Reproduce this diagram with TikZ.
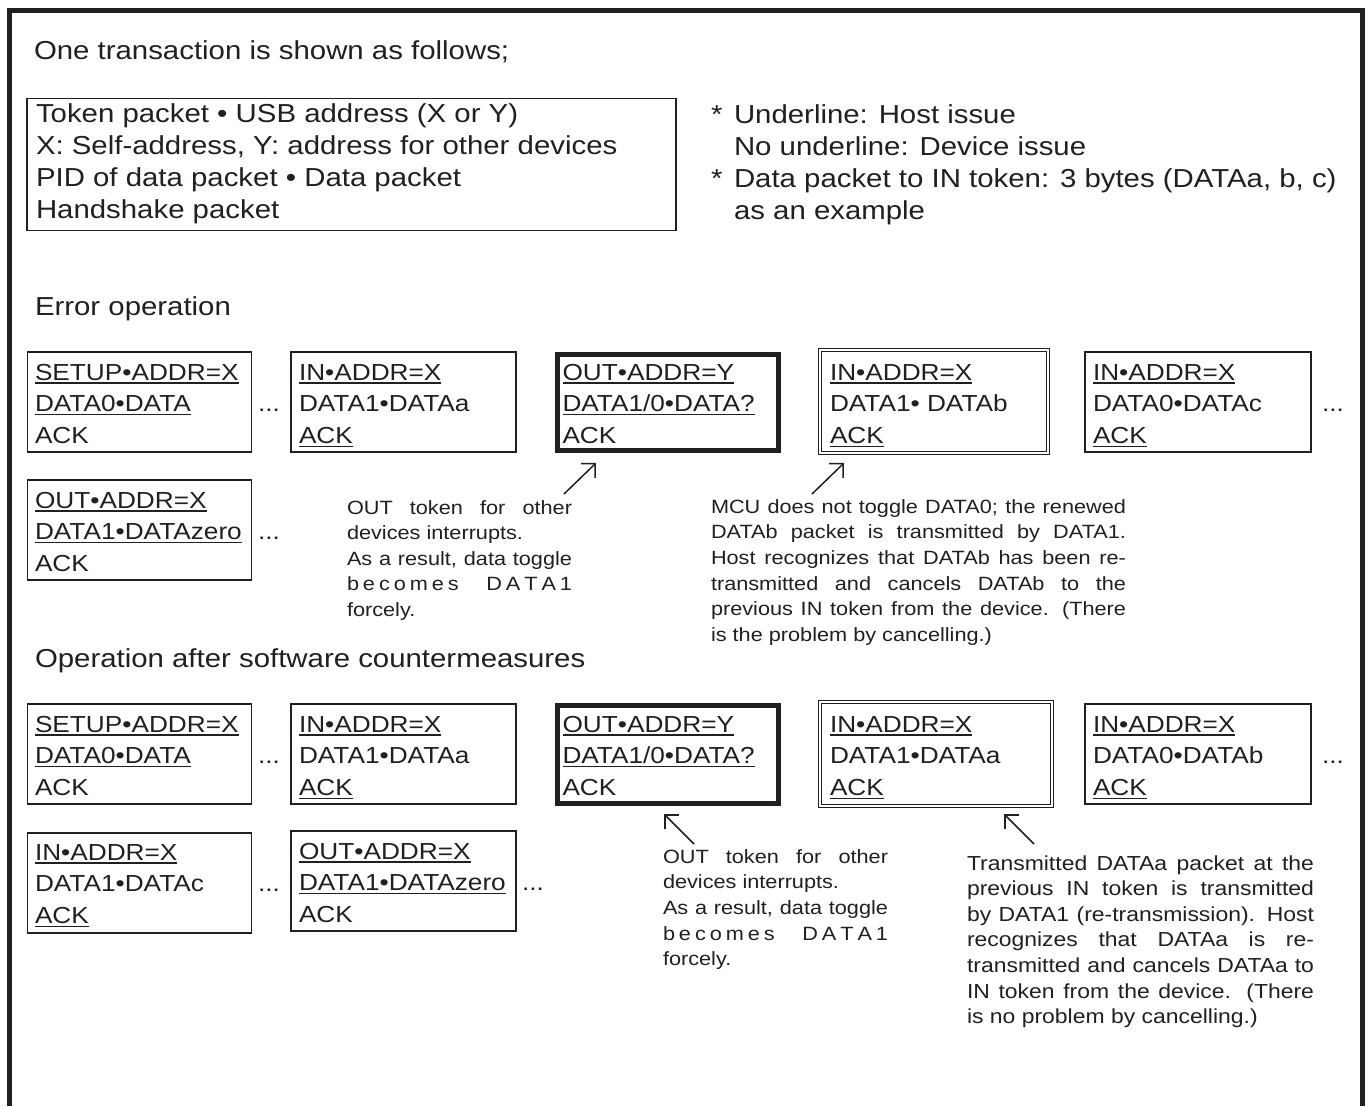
\documentclass[tikz,border=0pt]{standalone}
\usepackage{fontspec}
\setmainfont{Liberation Sans}[FakeStretch=1.13]
\usetikzlibrary{arrows.meta}
\definecolor{ink}{HTML}{231F20}
\newcommand\legfont{\fontsize{26}{32}\selectfont}
\newcommand\boxfont{\fontsize{23.2}{32}\selectfont}
\newcommand\annfont{\fontsize{19.2}{25}\selectfont}
\newcommand\annbfont{\fontsize{20.3}{26}\selectfont}
\newsavebox\ulbox
\newcommand\hul[1]{\sbox\ulbox{#1}\rlap{\rule[-3.6pt]{\wd\ulbox}{1.3pt}}\usebox\ulbox}
\newcommand\jl[2]{\makebox[#1][s]{#2}}
\newcommand\lgap{\hspace{0pt plus 1fil}}
\newcommand\wgap{\hspace{0pt plus 7fil}}
\newcommand\ptext[6]{%
 \node[boxtxt] (#1-1) at (#2,#3) {#4};
 \node[boxtxt] (#1-2) at ([yshift=-31.7pt]#1-1.base west) {#5};
 \node[boxtxt] (#1-3) at ([yshift=-63.4pt]#1-1.base west) {#6};}
\tikzset{
 pbox/.style={draw, line width=1.3pt, inner sep=0, outer sep=0, anchor=north west},
 thickbox/.style={draw, line width=5pt, inner sep=0, outer sep=0, anchor=north west},
 dbox/.style={draw, double=white, double distance=2.4pt, line width=1pt, inner sep=0, outer sep=0, anchor=north west},
 boxtxt/.style={anchor=base west, inner sep=0, outer sep=0, font=\boxfont},
 legtxt/.style={anchor=base west, inner sep=0, outer sep=0, font=\legfont},
 ann/.style={anchor=base west, inner sep=0, outer sep=0, font=\annfont},
 annb/.style={anchor=base west, inner sep=0, outer sep=0, font=\annbfont},
 callout/.style={-{Straight Barb[length=10pt,width=20pt]}, line width=1.5pt},
 frame/.style={line width=5pt, miter limit=10}
}
\begin{document}
\begin{tikzpicture}[x=1pt,y=-1pt,color=ink]
\useasboundingbox (0,0) rectangle (1368,1106);
\fill[white] (0,0) rectangle (1368,1106);
% outer frame (open at the bottom)
\draw[frame] (9.8,1106) -- (9.8,10.8) -- (1362.5,10.8) -- (1362.5,1106);

% header and legend
\node[legtxt] (title) at (34,59.5) {One transaction is shown as follows;};
\node[pbox, line width=1.2pt, minimum width=649pt, minimum height=132pt] (legend) at (27,98.5) {};
\node[legtxt] (leg1) at (36,122) {Token packet • USB address (X or Y)};
\node[legtxt] (leg2) at (36,154) {X: Self-address, Y: address for other devices};
\node[legtxt] (leg3) at (36,186) {PID of data packet • Data packet};
\node[legtxt] (leg4) at (36,218) {Handshake packet};

\node[legtxt] (s1) at (711,123) {*};
\node[legtxt] (n1) at (734,123) {Underline: Host issue};
\node[legtxt] (n2) at (734,155) {No underline: Device issue};
\node[legtxt] (s2) at (711,187) {*};
\node[legtxt] (n3) at (734,187) {Data packet to IN token: 3 bytes (DATAa, b, c)};
\node[legtxt] (n4) at (734,219) {as an example};

% ---------------- Error operation ----------------
\node[legtxt] (err) at (35,315) {Error operation};

\node[pbox, minimum width=224pt, minimum height=100pt] (b1) at (27.5,352) {};
\ptext{b1}{35}{380}{\hul{SETUP•ADDR=X}}{\hul{DATA0•DATA}}{ACK}
\node[boxtxt] (d1) at (258,411.7) {...};
\node[pbox, minimum width=225pt, minimum height=100pt] (b2) at (291,352) {};
\ptext{b2}{299}{380}{\hul{IN•ADDR=X}}{DATA1•DATAa}{\hul{ACK}}
\node[thickbox, minimum width=221pt, minimum height=96pt] (b3) at (557.5,354.5) {};
\ptext{b3}{562.5}{380}{\hul{OUT•ADDR=Y}}{\hul{DATA1/0•DATA?}}{ACK}
\node[dbox, minimum width=228pt, minimum height=103pt] (b4) at (820,350) {};
\ptext{b4}{830}{380}{\hul{IN•ADDR=X}}{DATA1• DATAb}{\hul{ACK}}
\node[pbox, minimum width=226pt, minimum height=100pt] (b5) at (1085,352) {};
\ptext{b5}{1093}{380}{\hul{IN•ADDR=X}}{DATA0•DATAc}{\hul{ACK}}
\node[boxtxt] (d2) at (1322,411.7) {...};

\node[pbox, minimum width=224pt, minimum height=100pt] (b6) at (27.5,480) {};
\ptext{b6}{35}{508}{\hul{OUT•ADDR=X}}{\hul{DATA1•DATAzero}}{ACK}
\node[boxtxt] (d3) at (258,539.7) {...};

\coordinate (t1) at (564,494); \coordinate (h1) at (596,463);
\draw[callout] (t1) -- (h1);
\coordinate (t2) at (812,494); \coordinate (h2) at (844,463);
\draw[callout] (t2) -- (h2);

\node[ann] (a1-1) at (347,514) {\jl{225pt}{OUT token for other}};
\node[ann] (a1-2) at (347,539.6) {devices interrupts.};
\node[ann] (a1-3) at (347,565.2) {\jl{225pt}{As a result, data toggle}};
\node[ann] (a1-4) at (347,590.8) {\jl{225pt}{b\lgap e\lgap c\lgap o\lgap m\lgap e\lgap s\wgap D\lgap A\lgap T\lgap A\lgap 1}};
\node[ann] (a1-5) at (347,616.4) {forcely.};

\node[ann] (a2-1) at (711,513) {\jl{415pt}{MCU does not toggle DATA0; the renewed}};
\node[ann] (a2-2) at (711,538.7) {\jl{415pt}{DATAb packet is transmitted by DATA1.}};
\node[ann] (a2-3) at (711,564.4) {\jl{415pt}{Host recognizes that DATAb has been re-}};
\node[ann] (a2-4) at (711,590.1) {\jl{415pt}{transmitted and cancels DATAb to the}};
\node[ann] (a2-5) at (711,615.8) {\jl{415pt}{previous IN token from the device. (There}};
\node[ann] (a2-6) at (711,641.5) {is the problem by cancelling.)};

% ---------------- After countermeasures ----------------
\node[legtxt] (cm) at (35,667) {Operation after software countermeasures};

\node[pbox, minimum width=224pt, minimum height=100pt] (b7) at (27.5,704) {};
\ptext{b7}{35}{732}{\hul{SETUP•ADDR=X}}{\hul{DATA0•DATA}}{ACK}
\node[boxtxt] (d4) at (258,763.7) {...};
\node[pbox, minimum width=225pt, minimum height=100pt] (b8) at (291,704) {};
\ptext{b8}{299}{732}{\hul{IN•ADDR=X}}{DATA1•DATAa}{\hul{ACK}}
\node[thickbox, minimum width=221pt, minimum height=98pt] (b9) at (557.5,705.5) {};
\ptext{b9}{562.5}{732}{\hul{OUT•ADDR=Y}}{\hul{DATA1/0•DATA?}}{ACK}
\node[dbox, minimum width=232pt, minimum height=104pt] (b10) at (820,702) {};
\ptext{b10}{830}{732}{\hul{IN•ADDR=X}}{DATA1•DATAa}{\hul{ACK}}
\node[pbox, minimum width=226pt, minimum height=100pt] (b11) at (1085,704) {};
\ptext{b11}{1093}{732}{\hul{IN•ADDR=X}}{DATA0•DATAb}{\hul{ACK}}
\node[boxtxt] (d5) at (1322,763.7) {...};

\node[pbox, minimum width=224pt, minimum height=100pt] (b12) at (27.5,833) {};
\ptext{b12}{35}{860}{\hul{IN•ADDR=X}}{DATA1•DATAc}{\hul{ACK}}
\node[boxtxt] (d6) at (258,891.7) {...};
\node[pbox, minimum width=225pt, minimum height=100pt] (b13) at (291,831) {};
\ptext{b13}{299}{859}{\hul{OUT•ADDR=X}}{\hul{DATA1•DATAzero}}{ACK}
\node[boxtxt] (d7) at (522,890.7) {...};

\coordinate (t3) at (694,844); \coordinate (h3) at (664,814);
\draw[callout] (t3) -- (h3);
\coordinate (t4) at (1034,844); \coordinate (h4) at (1004,814);
\draw[callout] (t4) -- (h4);

\node[ann] (a3-1) at (663,863) {\jl{225pt}{OUT token for other}};
\node[ann] (a3-2) at (663,888.7) {devices interrupts.};
\node[ann] (a3-3) at (663,914.4) {\jl{225pt}{As a result, data toggle}};
\node[ann] (a3-4) at (663,940.1) {\jl{225pt}{b\lgap e\lgap c\lgap o\lgap m\lgap e\lgap s\wgap D\lgap A\lgap T\lgap A\lgap 1}};
\node[ann] (a3-5) at (663,965.8) {forcely.};

\node[annb] (a4-1) at (967,870) {\jl{347pt}{Transmitted DATAa packet at the}};
\node[annb] (a4-2) at (967,895.6) {\jl{347pt}{previous IN token is transmitted}};
\node[annb] (a4-3) at (967,921.2) {\jl{347pt}{by DATA1 (re-transmission). Host}};
\node[annb] (a4-4) at (967,946.8) {\jl{347pt}{recognizes that DATAa is re-}};
\node[annb] (a4-5) at (967,972.4) {\jl{347pt}{transmitted and cancels DATAa to}};
\node[annb] (a4-6) at (967,998) {\jl{347pt}{IN token from the device. (There}};
\node[annb] (a4-7) at (967,1023.6) {is no problem by cancelling.)};
\end{tikzpicture}
\end{document}
